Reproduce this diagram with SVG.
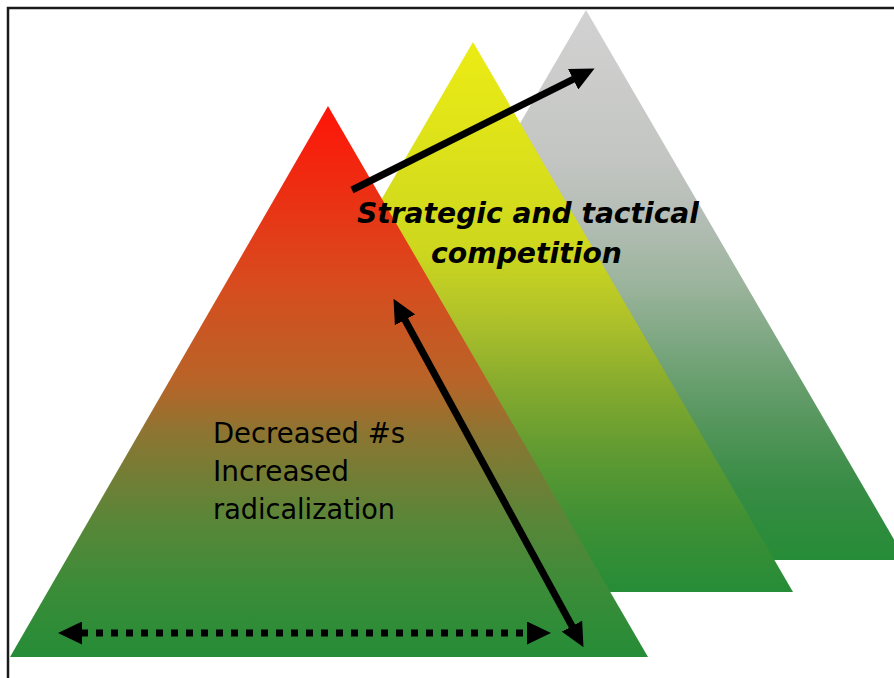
<svg xmlns="http://www.w3.org/2000/svg" width="894" height="678" viewBox="0 0 894 678">
<style>
.frame{fill:#ffffff;stroke:#1a1a1a;stroke-width:2.5}
.conn{stroke:#000;fill:none}
.bi{font-family:"DejaVu Sans",Verdana,sans-serif;font-weight:bold;font-style:italic;font-size:29px;fill:#000}
.rg{font-family:"DejaVu Sans",Verdana,sans-serif;font-size:29px;fill:#000}
</style>
<defs>
<linearGradient id="gGrey" x1="0" y1="0" x2="0" y2="1">
<stop offset="0" stop-color="#d2d2d2"/>
<stop offset="0.26" stop-color="#c4c6c3"/>
<stop offset="0.38" stop-color="#b4bdb5"/>
<stop offset="0.5" stop-color="#9bb49c"/>
<stop offset="0.62" stop-color="#78a57d"/>
<stop offset="0.75" stop-color="#55965c"/>
<stop offset="0.87" stop-color="#378c44"/>
<stop offset="1" stop-color="#268c37"/>
</linearGradient>
<linearGradient id="gYellow" x1="0" y1="0" x2="0" y2="1">
<stop offset="0" stop-color="#ecec14"/>
<stop offset="0.38" stop-color="#cdd71e"/>
<stop offset="0.5" stop-color="#b0c22a"/>
<stop offset="0.63" stop-color="#84aa2e"/>
<stop offset="0.75" stop-color="#5f9a32"/>
<stop offset="0.87" stop-color="#3f9034"/>
<stop offset="1" stop-color="#268c37"/>
</linearGradient>
<linearGradient id="gRed" x1="0" y1="0" x2="0" y2="1">
<stop offset="0" stop-color="#ff1408"/>
<stop offset="0.32" stop-color="#d84b1e"/>
<stop offset="0.5" stop-color="#b86428"/>
<stop offset="0.6" stop-color="#8a7632"/>
<stop offset="0.75" stop-color="#5a8638"/>
<stop offset="0.87" stop-color="#3c8c38"/>
<stop offset="1" stop-color="#268c37"/>
</linearGradient>
<marker id="ah" markerUnits="userSpaceOnUse" viewBox="0 0 24 23" markerWidth="24" markerHeight="23" refX="1" refY="11.5" orient="auto-start-reverse">
<path d="M0,0 L24,11.5 L0,23 z" fill="#000"/>
</marker>
</defs>
<rect class="frame" x="8" y="8" width="1000" height="1000"/>
<g id="tri-grey"><polygon points="586,10 266,560 906,560" fill="url(#gGrey)"/></g>
<g id="tri-yellow"><polygon points="473,42 153,592 793,592" fill="url(#gYellow)"/></g>
<g id="tri-red"><polygon points="328,106 10,657 648,657" fill="url(#gRed)"/></g>
<g id="connectors">
<line class="conn" x1="352" y1="190" x2="574" y2="78.8" stroke-width="7" marker-end="url(#ah)"/>
<line class="conn" x1="404.5" y1="319" x2="572.5" y2="627" stroke-width="7" marker-start="url(#ah)" marker-end="url(#ah)"/>
<line class="conn" x1="81" y1="633" x2="528" y2="633" stroke-width="7" stroke-dasharray="7 8" marker-start="url(#ah)" marker-end="url(#ah)"/>
</g>
<g id="label-competition">
<text class="bi" x="357" y="223" textLength="342" lengthAdjust="spacingAndGlyphs">Strategic and tactical</text>
<text class="bi" x="431" y="263" textLength="191" lengthAdjust="spacingAndGlyphs">competition</text>
</g>
<g id="label-radicalization">
<text class="rg" x="213" y="443" textLength="192" lengthAdjust="spacingAndGlyphs">Decreased #s</text>
<text class="rg" x="213" y="481" textLength="136" lengthAdjust="spacingAndGlyphs">Increased</text>
<text class="rg" x="213" y="519" textLength="182" lengthAdjust="spacingAndGlyphs">radicalization</text>
</g>
</svg>
